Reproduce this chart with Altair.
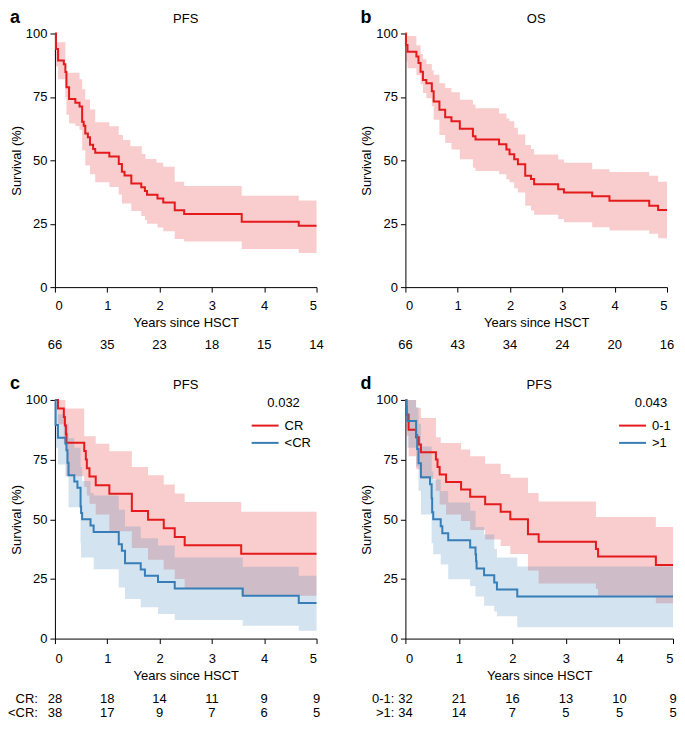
import altair as alt
import pandas as pd

RED = "#E41A1C"
BLUE = "#377EB8"
FONT = "Liberation Sans"
TICKS = [0, 1, 2, 3, 4, 5]

# ---------------- Panel a (PFS, all patients) ----------------
a_t = [0, 0.02, 0.06, 0.17, 0.20, 0.22, 0.27, 0.39, 0.47, 0.52, 0.55, 0.58, 0.63, 0.67, 0.73, 0.77,
       1.04, 1.22, 1.28, 1.33, 1.46, 1.65, 1.72, 1.76, 1.96, 2.07, 2.29, 2.47, 3.57, 4.66, 5.0]
a_s = [100, 93.9, 89.4, 87.9, 84.8, 78.8, 74.2, 72.7, 71.2, 65.2, 63.6, 60.6, 59.1, 56.1, 54.5, 53.0,
       51.5, 48.5, 45.5, 44.0, 40.9, 39.4, 37.9, 36.4, 34.9, 33.4, 30.3, 28.8, 25.8, 24.2, 24.2]
a_hi_t = [0, 0.03, 0.20, 0.47, 0.52, 0.58, 0.67, 0.77, 1.04, 1.22, 1.30, 1.44, 1.66, 1.73, 1.94, 2.07,
          2.29, 2.47, 3.57, 4.66, 5.0]
a_hi_v = [100, 96.5, 84.5, 82, 78, 74, 70, 65, 63.4, 60, 58, 55.5, 52.5, 50.5, 49, 47.5,
          41.5, 39.9, 36, 34.2, 34.2]
a_lo_t = [0, 0.02, 0.06, 0.20, 0.22, 0.27, 0.39, 0.47, 0.52, 0.58, 0.67, 0.77, 1.04, 1.22, 1.28, 1.46,
          1.65, 1.72, 1.76, 1.96, 2.07, 2.29, 2.47, 3.57, 4.66, 5.0]
a_lo_v = [100, 87, 82, 75, 68, 64.5, 63.5, 62, 54, 48, 44.5, 41.3, 39.5, 36.5, 33, 30,
          28, 26.5, 25, 23.5, 22, 19, 18, 15, 13.5, 13.5]
a_risk = [66, 35, 23, 18, 15, 14]

# ---------------- Panel b (OS, all patients) ----------------
b_t = [0, 0.01, 0.04, 0.21, 0.25, 0.29, 0.335, 0.40, 0.505, 0.54, 0.65, 0.76, 0.88, 1.04, 1.29, 1.34,
       1.79, 1.93, 1.99, 2.08, 2.15, 2.29, 2.40, 2.46, 2.92, 3.03, 3.57, 3.90, 4.66, 4.83, 5.0]
b_s = [100, 95.5, 92.8, 90.9, 88.4, 84.9, 81.7, 80.4, 77.2, 73.2, 69.9, 67.0, 65.4, 62.4, 59.5, 58.2,
       56.3, 54.3, 52.4, 50.4, 48.4, 43.9, 42.6, 40.6, 38.6, 37.3, 35.8, 34.1, 32.1, 30.4, 30.4]
b_hi_t = [0, 0.04, 0.21, 0.29, 0.335, 0.40, 0.505, 0.54, 0.65, 0.76, 0.88, 1.04, 1.29, 1.34, 1.79, 1.93,
          1.99, 2.08, 2.15, 2.29, 2.40, 2.46, 2.92, 3.03, 3.57, 3.90, 4.66, 4.83, 5.0]
b_hi_v = [100, 99, 95.4, 92, 89.8, 88, 85.5, 83.7, 80.4, 78.5, 76.8, 73.9, 72, 70.5, 68.5, 66.5,
          65.4, 62.8, 60.2, 56, 54.5, 52.3, 50.3, 49, 46.5, 45.4, 43.9, 41.5, 41.5]
b_lo_t = [0, 0.01, 0.04, 0.21, 0.29, 0.335, 0.40, 0.505, 0.54, 0.65, 0.76, 0.88, 1.04, 1.29, 1.34, 1.79,
          1.93, 1.99, 2.08, 2.15, 2.29, 2.40, 2.46, 2.92, 3.03, 3.57, 3.90, 4.66, 4.83, 5.0]
b_lo_v = [100, 89, 86.3, 83.5, 80, 76.5, 74.5, 71.3, 66, 60, 56.8, 54.3, 50.4, 47.1, 45.8, 44.5,
          42.5, 41.3, 39, 37.3, 32.1, 30.2, 28.5, 26.9, 25.6, 23.6, 22.3, 21, 19.3, 19.3]
b_risk = [66, 43, 34, 24, 20, 16]

# ---------------- Panel c (PFS by response: CR vs <CR) ----------------
c_groups = ["CR", "<CR"]
c1_t = [0, 0.058, 0.17, 0.19, 0.21, 0.22, 0.56, 0.59, 0.61, 0.66, 0.78, 1.04, 1.47, 1.78, 2.08, 2.29, 2.48, 3.56, 5.0]
c1_s = [100, 96.4, 92.9, 89.3, 85.7, 82.1, 78.6, 75.0, 71.4, 67.9, 64.3, 60.7, 53.5, 49.8, 46.2, 42.6, 39.1, 35.5, 35.5]
c1_hi_t = [0, 0.20, 0.56, 0.78, 1.04, 1.47, 1.78, 2.08, 2.29, 2.48, 3.56, 5.0]
c1_hi_v = [100, 96.4, 84.8, 81.6, 78.5, 71.9, 68.4, 64.6, 60.8, 57.2, 53.2, 53.2]
c1_lo_t = [0, 0.058, 0.17, 0.22, 0.56, 0.61, 0.66, 0.78, 1.04, 1.47, 1.78, 2.08, 2.29, 2.48, 3.56, 5.0]
c1_lo_v = [100, 89.8, 82, 68, 63.5, 60, 56.5, 52, 45, 38, 33, 29, 25, 20.8, 18, 18]
c2_t = [0, 0.013, 0.058, 0.20, 0.22, 0.24, 0.26, 0.37, 0.43, 0.49, 0.50, 0.52, 0.68, 0.74, 1.22, 1.28,
        1.34, 1.64, 1.72, 1.97, 2.29, 3.59, 4.66, 5.0]
c2_s = [100, 89.5, 84.2, 81.6, 78.9, 73.7, 68.4, 65.8, 63.2, 55.3, 52.6, 50.0, 47.4, 44.7, 39.5, 36.8,
        31.6, 28.9, 26.3, 23.7, 21.0, 18.0, 14.9, 14.9]
c2_hi_t = [0, 0.013, 0.058, 0.20, 0.26, 0.37, 0.49, 0.52, 0.68, 0.74, 1.22, 1.34, 1.64, 1.97, 2.29, 3.59, 4.66, 5.0]
c2_hi_v = [100, 98, 94, 90, 84, 80, 72, 66, 61, 60, 54, 47, 42, 39, 34, 30.1, 26.3, 26.3]
c2_lo_t = [0, 0.013, 0.058, 0.20, 0.26, 0.49, 0.50, 0.74, 1.22, 1.34, 1.64, 1.97, 2.29, 3.59, 4.66, 5.0]
c2_lo_v = [100, 80, 73, 68, 55, 40, 34, 29.1, 21.4, 16.6, 13.1, 10.3, 7.8, 5.4, 3.3, 3.3]
c_risk = [[28, 18, 14, 11, 9, 9], [38, 17, 9, 7, 6, 5]]
c_pvalue = "0.032"

# ---------------- Panel d (PFS by score: 0-1 vs >1) ----------------
d_groups = ["0-1", ">1"]
d1_t = [0, 0.02, 0.06, 0.20, 0.25, 0.29, 0.57, 0.60, 0.64, 0.76, 1.04, 1.21, 1.49, 1.78, 1.96, 2.29, 2.49, 3.56, 3.60, 4.68, 5.0]
d1_s = [100, 93.8, 87.5, 84.4, 81.3, 78.1, 75.0, 71.9, 68.8, 65.6, 62.5, 59.4, 56.3, 53.1, 50.0, 43.7, 40.6, 37.5, 34.4, 30.8, 30.8]
d1_hi_t = [0, 0.20, 0.29, 0.57, 0.66, 1.04, 1.21, 1.49, 1.78, 1.96, 2.29, 2.49, 3.56, 4.68, 5.0]
d1_hi_v = [100, 96.6, 92.4, 84.4, 82, 79.2, 76.4, 73.3, 69, 67.4, 61, 57.4, 51, 46.8, 46.8]
d1_lo_t = [0, 0.02, 0.06, 0.20, 0.29, 0.57, 0.64, 0.76, 1.04, 1.21, 1.49, 1.78, 1.96, 2.29, 2.49, 3.56, 3.60, 4.68, 5.0]
d1_lo_v = [100, 85, 76.4, 71, 67, 62, 56.2, 52, 49.3, 45.5, 41.5, 38.8, 35.4, 28.5, 23.1, 20.8, 18.0, 14.8, 14.8]
d2_t = [0, 0.015, 0.025, 0.04, 0.20, 0.22, 0.245, 0.29, 0.46, 0.49, 0.50, 0.52, 0.66, 0.69, 0.80, 1.21,
        1.31, 1.32, 1.33, 1.47, 1.66, 1.71, 2.09, 5.0]
d2_s = [100, 97.1, 94.1, 91.2, 85.3, 79.4, 73.5, 67.6, 64.7, 58.8, 52.9, 50.0, 47.1, 44.1, 41.2, 38.2,
        35.3, 32.4, 29.4, 26.5, 23.5, 20.6, 17.6, 17.6]
d2_hi_t = [0, 0.20, 0.245, 0.29, 0.49, 0.52, 0.66, 0.80, 1.21, 1.31, 1.47, 1.66, 1.71, 2.09, 5.0]
d2_hi_v = [100, 97, 90, 80.5, 70, 66.7, 61.8, 57, 53.6, 46.8, 43.6, 37.5, 34, 30.2, 30.2]
d2_lo_t = [0, 0.015, 0.04, 0.20, 0.245, 0.29, 0.49, 0.52, 0.66, 0.80, 1.21, 1.31, 1.47, 1.66, 1.71, 2.09, 5.0]
d2_lo_v = [100, 88, 80, 72, 62, 52, 40, 35.3, 31, 24.9, 22, 17.6, 13.8, 11.3, 9.4, 4.8, 4.8]
d_risk = [[32, 21, 16, 13, 10, 9], [34, 14, 7, 5, 5, 5]]
d_pvalue = "0.043"


def step_at(ts, vs, x):
    v = vs[0]
    for t, val in zip(ts, vs):
        if t <= x + 1e-9:
            v = val
        else:
            break
    return v


def band_df(g, hi_t, hi_v, lo_t, lo_v):
    grid = sorted(set(hi_t) | set(lo_t))
    return pd.DataFrame({
        "g": g, "t": grid,
        "hi": [step_at(hi_t, hi_v, x) for x in grid],
        "lo": [step_at(lo_t, lo_v, x) for x in grid],
    })


def line_df(g, ts, ss):
    return pd.DataFrame({"g": g, "t": ts, "s": ss})


def txt(s, x, y, size=13, align="center", baseline="alphabetic", weight="normal"):
    return alt.Chart(pd.DataFrame({"l": [s]})).mark_text(
        font=FONT, fontSize=size, fontWeight=weight, align=align, baseline=baseline, color="#000"
    ).encode(x=alt.value(x), y=alt.value(y), text="l:N")


def panel(letter, title, groups, colors, lines, bands, risk, width, height,
          risk_dy, row_labels=None, label_x=-17, legend_title=None, legend_x=0, lab_pad=7):
    xs = alt.Scale(domain=[0, 5], nice=False, zero=False)
    ys = alt.Scale(domain=[0, 100], nice=False)
    cs = alt.Scale(domain=groups, range=colors)
    x_axis = alt.Axis(values=TICKS, title="Years since HSCT", labelPadding=lab_pad, titlePadding=4,
                      format="d")
    y_axis = alt.Axis(values=[0, 25, 50, 75, 100], title="Survival (%)", labelPadding=3, titlePadding=2)

    band = alt.Chart(pd.concat(bands)).mark_area(interpolate="step-after", opacity=0.22).encode(
        x=alt.X("t:Q", scale=xs, axis=x_axis),
        y=alt.Y("lo:Q", scale=ys, axis=y_axis, stack=None),
        y2="hi:Q",
        fill=alt.Fill("g:N", scale=cs, legend=None),
        detail="g:N",
    )
    line = alt.Chart(pd.concat(lines)).mark_line(interpolate="step-after", strokeWidth=2).encode(
        x="t:Q", y="s:Q",
        color=alt.Color("g:N", scale=cs, legend=None),
        detail="g:N",
    )
    layers = [band, line]

    # panel letter and panel title
    layers.append(txt(letter, -45, -11, size=18, align="left", weight="bold"))
    layers.append(txt(title, width / 2, -10.5))

    # legend with p-value (drawn with the same colour scale)
    if legend_title:
        layers.append(txt(legend_title, legend_x + 32, 7.5))
        for i, g in enumerate(groups):
            yy = 25.7 + 17.3 * i
            layers.append(alt.Chart(pd.DataFrame({"g": [g]})).mark_rule(strokeWidth=2).encode(
                x=alt.value(legend_x), x2=alt.value(legend_x + 27), y=alt.value(yy),
                color=alt.Color("g:N", scale=cs, legend=None)))
            layers.append(txt(g, legend_x + 33, yy, align="left", baseline="middle"))

    # numbers at risk
    for i, nums in enumerate(risk):
        df = pd.DataFrame({"t": TICKS, "n": [str(n) for n in nums]})
        layers.append(alt.Chart(df).mark_text(font=FONT, fontSize=13, baseline="middle", color="#000").encode(
            x="t:Q", y=alt.value(height + risk_dy[i]), text="n:N"))
        if row_labels:
            layers.append(txt(row_labels[i], label_x, height + risk_dy[i], align="right", baseline="middle"))

    return alt.layer(*layers).properties(width=width, height=height)


pa = panel("a", "PFS", ["all"], [RED],
           [line_df("all", a_t, a_s)], [band_df("all", a_hi_t, a_hi_v, a_lo_t, a_lo_v)],
           [a_risk], 262, 254, [58])
pb = panel("b", "OS", ["all"], [RED],
           [line_df("all", b_t, b_s)], [band_df("all", b_hi_t, b_hi_v, b_lo_t, b_lo_v)],
           [b_risk], 262, 254, [58])
pc = panel("c", "PFS", c_groups, [RED, BLUE],
           [line_df("CR", c1_t, c1_s), line_df("<CR", c2_t, c2_s)],
           [band_df("CR", c1_hi_t, c1_hi_v, c1_lo_t, c1_lo_v), band_df("<CR", c2_hi_t, c2_hi_v, c2_lo_t, c2_lo_v)],
           c_risk, 262, 239, [61, 75], row_labels=["CR:", "<CR:"], label_x=-17,
           legend_title=c_pvalue, legend_x=197, lab_pad=9)
pd_ = panel("d", "PFS", d_groups, [RED, BLUE],
            [line_df("0-1", d1_t, d1_s), line_df(">1", d2_t, d2_s)],
            [band_df("0-1", d1_hi_t, d1_hi_v, d1_lo_t, d1_lo_v), band_df(">1", d2_hi_t, d2_hi_v, d2_lo_t, d2_lo_v)],
            d_risk, 268, 239, [61, 75], row_labels=["0-1:", ">1:"], label_x=-11,
            legend_title=d_pvalue, legend_x=214, lab_pad=9)

chart = alt.concat(pa, pb, pc, pd_, columns=2, spacing=alt.RowColnumber(row=113, column=89),
                   bounds="flush", align="each").resolve_scale(
    color="independent", fill="independent", x="independent", y="independent"
).properties(
    padding=0
).configure_view(stroke=None).configure_axis(
    grid=False, domainColor="#000", tickColor="#000", labelColor="#000", titleColor="#000",
    labelFont=FONT, titleFont=FONT, labelFontSize=13, titleFontSize=13, titleFontWeight="normal",
    tickSize=5, domainWidth=1, tickWidth=1,
).configure_text(font=FONT)

chart.save("out.html", embed_options={"renderer": "svg", "actions": False})
